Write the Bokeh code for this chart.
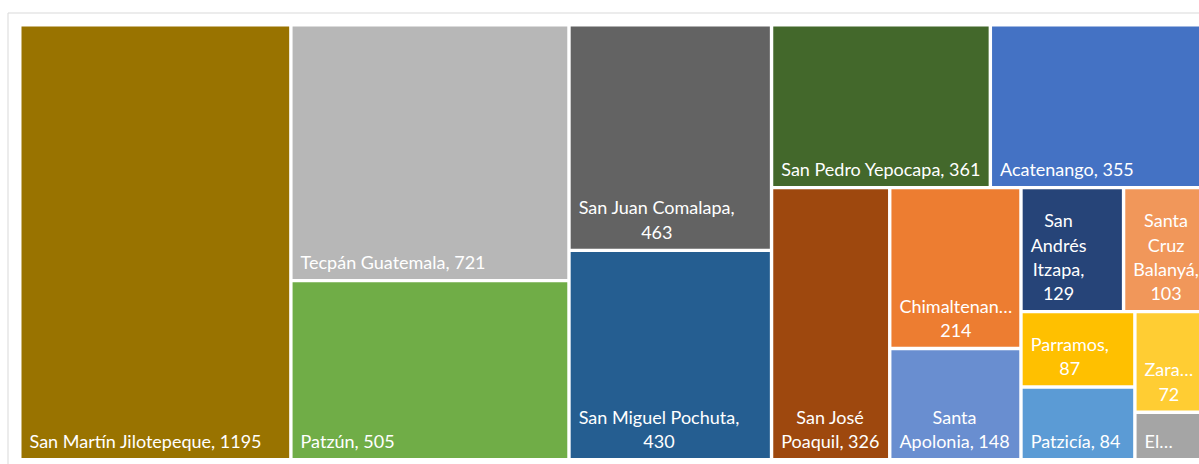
from bokeh.plotting import figure
from bokeh.models import Range1d, ColumnDataSource
from bokeh.core.properties import value
from bokeh.embed import file_html
from bokeh.resources import INLINE

# ---- data ----
names = ["San Martín Jilotepeque", "Tecpán Guatemala", "Patzún", "San Juan Comalapa",
         "San Miguel Pochuta", "San Pedro Yepocapa", "Acatenango", "San José Poaquil",
         "Chimaltenango", "Santa Apolonia", "San Andrés Itzapa", "Santa Cruz Balanyá",
         "Parramos", "Patzicía", "Zaragoza", "El Tejar"]
values = [1195, 721, 505, 463, 430, 361, 355, 326, 214, 148, 129, 103, 87, 84, 72, 34]
labels = ["San Martín Jilotepeque, 1195", "Tecpán Guatemala, 721", "Patzún, 505",
          "San Juan Comalapa,\n463", "San Miguel Pochuta,\n430", "San Pedro Yepocapa, 361",
          "Acatenango, 355", "San José\nPoaquil, 326", "Chimaltenan…\n214",
          "Santa\nApolonia, 148", "San\nAndrés\nItzapa,\n129", "Santa\nCruz\nBalanyá,\n103",
          "Parramos,\n87", "Patzicía, 84", "Zara…\n72", "El…"]
colors = ["#997300", "#B7B7B7", "#70AD47", "#636363", "#255E91", "#43682B", "#4472C4",
          "#9E480E", "#ED7D31", "#698ED0", "#264478", "#F1975A", "#FFC000", "#5B9BD5",
          "#FFCD33", "#A5A5A5"]
# number of items in each strip of the squarified layout
strips = [1, 2, 2, 2, 1, 2, 2, 2, 1, 1]

# ---- layout ----
X0, X1, Y0, Y1 = 19.3, 1205.0, 24.3, 459.3
GAP = 1.7


def treemap(vals, x0, y0, x1, y1, strips):
    out = []
    i = 0
    for n in strips:
        group = vals[i:i + n]
        gsum = float(sum(group))
        rem = float(sum(vals[i:]))
        w, h = x1 - x0, y1 - y0
        if w >= h:
            sw = w * gsum / rem
            yy = y0
            for v in group:
                hh = h * v / gsum
                out.append((x0, x0 + sw, yy, yy + hh))
                yy += hh
            x0 += sw
        else:
            sh = h * gsum / rem
            xx = x0
            for v in group:
                ww = w * v / gsum
                out.append((xx, xx + ww, y0, y0 + sh))
                xx += ww
            y0 += sh
        i += n
    return out


rects = treemap(values, X0, Y0, X1, Y1, strips)
left = [r[0] + GAP for r in rects]
right = [r[1] - GAP for r in rects]
top = [r[2] + GAP for r in rects]
bottom = [r[3] - GAP for r in rects]

src = ColumnDataSource(dict(left=left, right=right, top=top, bottom=bottom,
                            color=colors, name=names, value=values, label=labels,
                            lx=[l + 8 for l in left], ly=[b - 6 for b in bottom]))

p = figure(width=1199, height=464, output_backend="svg", toolbar_location=None,
           x_range=Range1d(0, 1199), y_range=Range1d(464, 0),
           min_border=0, outline_line_color=None)
p.axis.visible = False
p.grid.visible = False
p.background_fill_color = "white"
p.border_fill_color = "white"

# chart area border
p.quad(left=[7.5], right=[3000], top=[12.5], bottom=[3000], fill_color=None,
       line_color="#D9D9D9", line_width=1)

p.quad(left="left", right="right", top="top", bottom="bottom", fill_color="color",
       line_color=None, source=src)

p.text(x="lx", y="ly", text="label", source=src, anchor="bottom_left",
       text_align="center", text_color="white", text_font=value("Lato"),
       text_font_size="18px", text_line_height=1.1)

open("out.html", "w").write(file_html(p, INLINE))
